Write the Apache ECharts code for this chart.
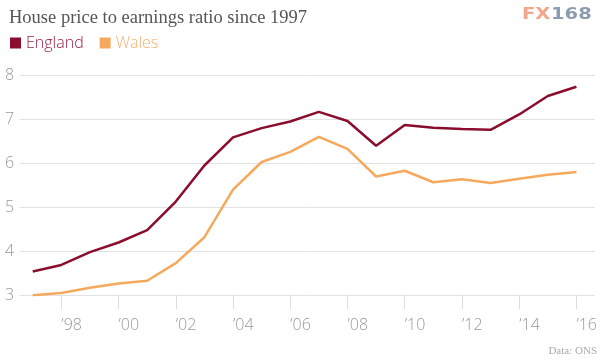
<!DOCTYPE html>
<html>
<head>
<meta charset="utf-8">
<script src="https://cdn.jsdelivr.net/npm/echarts@6/dist/echarts.min.js"></script>
<style>html,body{margin:0;padding:0;background:#fff}#c{width:600px;height:364px}</style>
</head>
<body>
<div id="c"></div>
<script>
var years = [1997,1998,1999,2000,2001,2002,2003,2004,2005,2006,2007,2008,2009,2010,2011,2012,2013,2014,2015,2016];
var england = [3.54,3.69,3.98,4.20,4.48,5.13,5.95,6.59,6.80,6.95,7.17,6.96,6.40,6.87,6.81,6.78,6.76,7.11,7.53,7.74];
var wales = [3.00,3.05,3.17,3.27,3.33,3.73,4.32,5.40,6.03,6.26,6.60,6.33,5.70,5.83,5.57,5.64,5.55,5.65,5.74,5.80];
var xTicks = [1998,2000,2002,2004,2006,2008,2010,2012,2014,2016];
var yTicks = [3,4,5,6,7,8];

var cEng = '#8b0d2e', cWal = '#f5a95d';
function pairs(v){ return years.map(function(y,i){ return [y, v[i]]; }); }

var chart = echarts.init(document.getElementById('c'), null, {renderer:'canvas'});
chart.setOption({
  animation:false,
  backgroundColor:'#fff',
  title:{
    text:'House price to earnings ratio since 1997',
    left:4, top:4,
    textStyle:{fontFamily:'Liberation Serif', fontWeight:'normal', fontSize:18.5, color:'#555'}
  },
  legend:{
    left:5, top:30, icon:'rect', itemWidth:11, itemHeight:11, itemGap:16,
    textStyle:{fontFamily:'Open Sans', fontSize:16, fontWeight:300},
    data:[
      {name:'England', textStyle:{color:'#9a2243'}},
      {name:'Wales', textStyle:{color:'#f3b071'}}
    ]
  },
  graphic:[
    {type:'text', left:522, top:8, scaleX:1.3, style:{text:'FX', fill:'#f2a68c', font:'bold 15px "DejaVu Sans"'}},
    {type:'text', left:551, top:8, scaleX:1.3, style:{text:'168', fill:'#8d9db0', font:'bold 15px "DejaVu Sans"'}},
    {type:'text', right:3, top:346, style:{text:'Data: ONS', fill:'#aaa', font:'11px "Liberation Serif"'}}
  ],
  grid:{left:20, right:5, top:75.3, bottom:68.7, containLabel:false},
  xAxis:{
    type:'value', min:1996.556, max:2016.64,
    axisLine:{show:false},
    splitLine:{show:false},
    axisTick:{show:true, customValues:xTicks, length:14, lineStyle:{color:'#ddd'}},
    axisLabel:{customValues:xTicks, align:'left', margin:22, fontFamily:'Open Sans', fontWeight:300, fontSize:16, color:'#999',
      formatter:function(v){ return '\u2019' + String(v).slice(2); }}
  },
  yAxis:{
    type:'value', min:3, max:8, interval:1,
    axisLine:{show:false}, axisTick:{show:false},
    splitLine:{lineStyle:{color:'#e2e2e2', width:1}},
    axisLabel:{align:'left', margin:15, fontFamily:'Open Sans', fontWeight:300, fontSize:16, color:'#999'}
  },
  series:[
    {name:'England', type:'line', data:pairs(england), symbol:'none', lineStyle:{color:cEng, width:2.5}, itemStyle:{color:cEng}},
    {name:'Wales', type:'line', data:pairs(wales), symbol:'none', lineStyle:{color:cWal, width:2.5}, itemStyle:{color:cWal}}
  ]
});
</script>
</body>
</html>
